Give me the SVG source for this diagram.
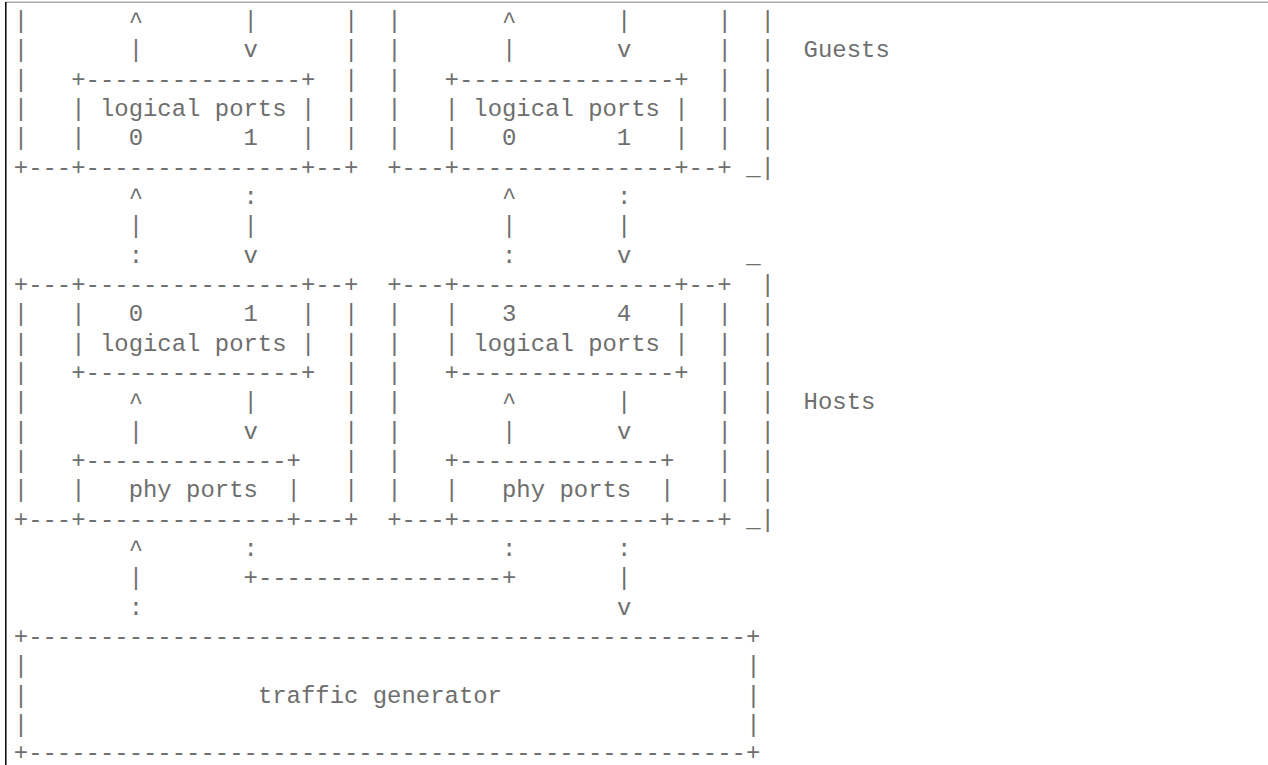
<svg xmlns="http://www.w3.org/2000/svg" width="1268" height="765" viewBox="0 0 1268 765" xml:space="preserve">
  <style>
    text { font-family: "Liberation Mono", "Courier New", monospace; font-size: 23.93px; fill: #6e6e6e; white-space: pre; }
    .frame-top { stroke: #a8a8a8; stroke-width: 1.5; }
    .frame-left { stroke: #111; stroke-width: 1.6; }
  </style>
  <!-- character grid: column c at x = 13.8 + 14.36*c, row r baseline at y = 28 + 29.33*(r-1) -->
  <rect width="1268" height="765" fill="#fff"/>
  <g id="frame">
    <line class="frame-top" x1="6" y1="2.2" x2="1268" y2="2.2"/>
    <line class="frame-left" x1="5.8" y1="2" x2="5.8" y2="765"/>
  </g>

  <!-- guest VM 0 -->
  <g id="guest0">
    <text x="13.8" y="28">|</text><text x="344.1" y="28">|</text>
    <text x="13.8" y="57.33">|</text><text x="344.1" y="57.33">|</text>
    <text x="13.8" y="86.66">|</text><text x="344.1" y="86.66">|</text>
    <text x="13.8" y="116">|</text><text x="344.1" y="116">|</text>
    <text x="13.8" y="145.3">|</text><text x="344.1" y="145.3">|</text>
    <text x="13.8" y="174.65">+---+---------------+--+</text>
    <g id="guest0-ports">
      <text x="71.24" y="86.66">+---------------+</text>
      <text x="71.24" y="116">| logical ports |</text>
      <text x="71.24" y="145.3">|   0       1   |</text>
    </g>
  </g>

  <!-- guest VM 1 -->
  <g id="guest1">
    <text x="387.16" y="28">|</text><text x="717.46" y="28">|</text>
    <text x="387.16" y="57.33">|</text><text x="717.46" y="57.33">|</text>
    <text x="387.16" y="86.66">|</text><text x="717.46" y="86.66">|</text>
    <text x="387.16" y="116">|</text><text x="717.46" y="116">|</text>
    <text x="387.16" y="145.3">|</text><text x="717.46" y="145.3">|</text>
    <text x="387.16" y="174.65">+---+---------------+--+</text>
    <g id="guest1-ports">
      <text x="444.6" y="86.66">+---------------+</text>
      <text x="444.6" y="116">| logical ports |</text>
      <text x="444.6" y="145.3">|   0       1   |</text>
    </g>
  </g>

  <!-- Guests bracket -->
  <g id="guests-label">
    <text x="760.54" y="28">|</text>
    <text x="760.54" y="57.33">|  Guests</text>
    <text x="760.54" y="86.66">|</text>
    <text x="760.54" y="116">|</text>
    <text x="760.54" y="145.3">|</text>
    <text x="746.18" y="174.65">_|</text>
  </g>

  <!-- host 0 -->
  <g id="host0">
    <text x="13.8" y="292">+---+---------------+--+</text>
    <text x="13.8" y="321.3">|</text><text x="344.1" y="321.3">|</text>
    <text x="13.8" y="350.6">|</text><text x="344.1" y="350.6">|</text>
    <text x="13.8" y="380">|</text><text x="344.1" y="380">|</text>
    <text x="13.8" y="409.3">|</text><text x="344.1" y="409.3">|</text>
    <text x="13.8" y="438.6">|</text><text x="344.1" y="438.6">|</text>
    <text x="13.8" y="468">|</text><text x="344.1" y="468">|</text>
    <text x="13.8" y="497.3">|</text><text x="344.1" y="497.3">|</text>
    <text x="13.8" y="526.6">+---+--------------+---+</text>
    <g id="host0-logical">
      <text x="71.24" y="321.3">|   0       1   |</text>
      <text x="71.24" y="350.6">| logical ports |</text>
      <text x="71.24" y="380">+---------------+</text>
    </g>
    <g id="host0-phy">
      <text x="71.24" y="468">+--------------+</text>
      <text x="71.24" y="497.3">|   phy ports  |</text>
    </g>
  </g>

  <!-- host 1 -->
  <g id="host1">
    <text x="387.16" y="292">+---+---------------+--+</text>
    <text x="387.16" y="321.3">|</text><text x="717.46" y="321.3">|</text>
    <text x="387.16" y="350.6">|</text><text x="717.46" y="350.6">|</text>
    <text x="387.16" y="380">|</text><text x="717.46" y="380">|</text>
    <text x="387.16" y="409.3">|</text><text x="717.46" y="409.3">|</text>
    <text x="387.16" y="438.6">|</text><text x="717.46" y="438.6">|</text>
    <text x="387.16" y="468">|</text><text x="717.46" y="468">|</text>
    <text x="387.16" y="497.3">|</text><text x="717.46" y="497.3">|</text>
    <text x="387.16" y="526.6">+---+--------------+---+</text>
    <g id="host1-logical">
      <text x="444.6" y="321.3">|   3       4   |</text>
      <text x="444.6" y="350.6">| logical ports |</text>
      <text x="444.6" y="380">+---------------+</text>
    </g>
    <g id="host1-phy">
      <text x="444.6" y="468">+--------------+</text>
      <text x="444.6" y="497.3">|   phy ports  |</text>
    </g>
  </g>

  <!-- Hosts bracket -->
  <g id="hosts-label">
    <text x="746.18" y="262.6">_</text>
    <text x="760.54" y="292">|</text>
    <text x="760.54" y="321.3">|</text>
    <text x="760.54" y="350.6">|</text>
    <text x="760.54" y="380">|</text>
    <text x="760.54" y="409.3">|  Hosts</text>
    <text x="760.54" y="438.6">|</text>
    <text x="760.54" y="468">|</text>
    <text x="760.54" y="497.3">|</text>
    <text x="746.18" y="526.6">_|</text>
  </g>

  <!-- traffic generator -->
  <g id="traffic-generator">
    <text x="13.8" y="644">+--------------------------------------------------+</text>
    <text x="13.8" y="673.3">|</text><text x="746.18" y="673.3">|</text>
    <text x="13.8" y="702.6">|</text><text x="746.18" y="702.6">|</text>
    <text x="257.92" y="702.6">traffic generator</text>
    <text x="13.8" y="732">|</text><text x="746.18" y="732">|</text>
    <text x="13.8" y="759.8">+--------------------------------------------------+</text>
  </g>

  <!-- connectors -->
  <g id="connectors">
    <!-- guest logical ports, upward and downward paths -->
    <text x="128.68" y="28">^</text><text x="243.56" y="28">|</text>
    <text x="128.68" y="57.33">|</text><text x="243.56" y="57.33">v</text>
    <text x="502.04" y="28">^</text><text x="616.92" y="28">|</text>
    <text x="502.04" y="57.33">|</text><text x="616.92" y="57.33">v</text>
    <!-- host logical ports to guests -->
    <text x="128.68" y="204">^</text><text x="243.56" y="204">:</text>
    <text x="502.04" y="204">^</text><text x="616.92" y="204">:</text>
    <text x="128.68" y="233.3">|</text><text x="243.56" y="233.3">|</text>
    <text x="502.04" y="233.3">|</text><text x="616.92" y="233.3">|</text>
    <text x="128.68" y="262.6">:</text><text x="243.56" y="262.6">v</text>
    <text x="502.04" y="262.6">:</text><text x="616.92" y="262.6">v</text>
    <!-- logical ports to phy ports inside hosts -->
    <text x="128.68" y="409.3">^</text><text x="243.56" y="409.3">|</text>
    <text x="128.68" y="438.6">|</text><text x="243.56" y="438.6">v</text>
    <text x="502.04" y="409.3">^</text><text x="616.92" y="409.3">|</text>
    <text x="502.04" y="438.6">|</text><text x="616.92" y="438.6">v</text>
    <!-- phy ports to traffic generator -->
    <text x="128.68" y="556">^</text><text x="243.56" y="556">:</text>
    <text x="502.04" y="556">:</text><text x="616.92" y="556">:</text>
    <text x="128.68" y="585.3">|</text>
    <text x="243.56" y="585.3">+-----------------+</text>
    <text x="616.92" y="585.3">|</text>
    <text x="128.68" y="614.6">:</text><text x="616.92" y="614.6">v</text>
  </g>
</svg>
